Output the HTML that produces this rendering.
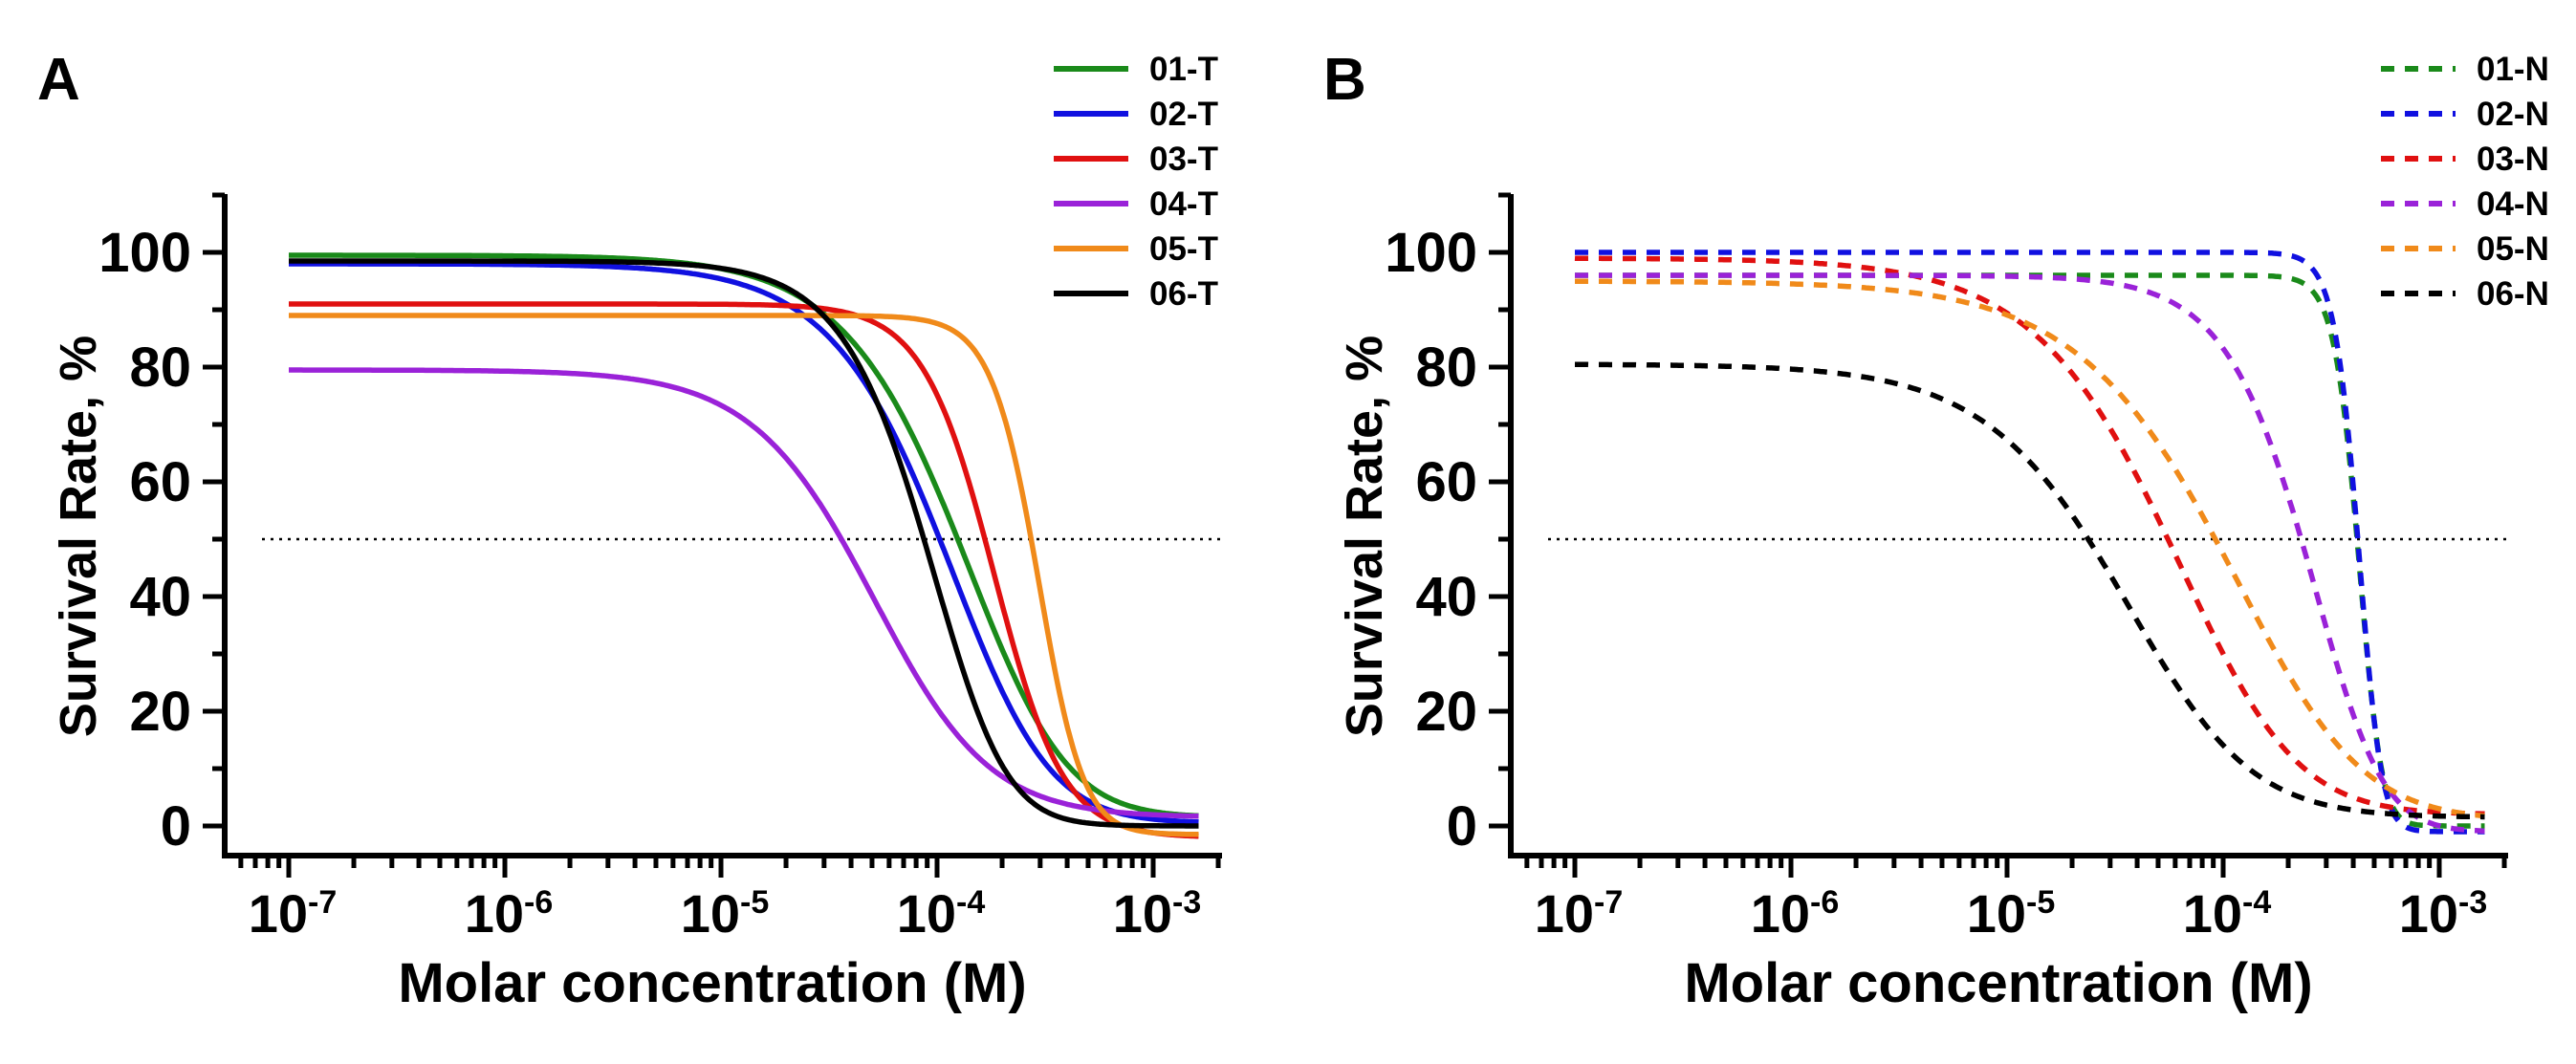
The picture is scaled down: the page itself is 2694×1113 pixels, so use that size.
<!DOCTYPE html>
<html><head><meta charset="utf-8"><style>
body{margin:0;background:#fff}
svg{display:block;font-family:"Liberation Sans",Arial,sans-serif;font-weight:bold}
</style></head><body>
<svg id="fig" width="2694" height="1113" viewBox="0 0 2694 1113"></svg>
<script>
// Panel A (solid) asymmetric-logistic fit parameters
const namesA=["01-T","02-T","03-T","04-T","05-T","06-T"];
const topA=[99.5,98,91,79.5,89,98.5];
const bottomA=[1.5,0.5,-2,1.5,-1.5,0];
const logIC50A=[-3.91,-3.98,-3.74,-4.305,-3.535,-4.055];
const hillA=[1.4,1.45,2.6,1.5,3.8,1.9];
const asymA=[2.2,2,1.1,1.2,1.3,2.2];
// Panel B (dashed)
const namesB=["01-N","02-N","03-N","04-N","05-N","06-N"];
const topB=[96,100,99,96,95,80.5];
const bottomB=[0,-1,2,-1,1,1.5];
const logIC50B=[-3.376,-3.376,-4.262,-3.62,-4.008,-4.479];
const hillB=[7,7,1.2,1.95,1.1,1.25];
const asymB=[1.6,1.6,2.1,2.5,2.2,1.6];
const colors=["#1a8a1a","#1010e0","#e01010","#9a22d8","#f08a1a","#000000"];
const yTicks=[0,20,40,60,80,100];
const xDecades=[-7,-6,-5,-4,-3];
const xMin=-7,xMax=-2.79;

const NS="http://www.w3.org/2000/svg";
const svg=document.getElementById('fig');
function mk(t,a,p){const e=document.createElementNS(NS,t);for(const k in a)e.setAttribute(k,a[k]);(p||svg).appendChild(e);return e;}

function panel(ox,label,names,tops,bots,ics,hills,asyms,dashed,legX){
  const g=mk('g',{});
  
  
  const axL=ox, axR=ox+1043, x0=ox+67, dec=226;
  const X=l=>x0+(l+7)*dec;
  const Y=v=>864-v*6;
  const axB=895, axT=203;
  const pl=mk('text',{x:ox-196,y:104,'font-size':62},g);pl.textContent=label;
  
  
  const ya=mk('line',{x1:axL,y1:axT,x2:axL,y2:axB+2,stroke:'#000','stroke-width':6},g);
  
  
  for(let v=110;v>=-5;v-=10){
    const major=yTicks.includes(v);
    mk('line',{x1:axL-(major?23:13),y1:Y(v),x2:axL,y2:Y(v),stroke:'#000','stroke-width':5},g);
    if(major){const t=mk('text',{x:axL-35,y:Y(v)+20,'font-size':58,'text-anchor':'end'},g);t.textContent=v;
      
      }
  }
  const xa=mk('line',{x1:axL-3,y1:axB,x2:axR,y2:axB,stroke:'#000','stroke-width':6},g);
  
  
  for(let d=-8;d<=-3;d++){for(let m=1;m<=9;m++){const l=d+Math.log10(m);
    if(l<xMin-0.3||l>-2.68)continue;
    const major=m===1;
    mk('line',{x1:X(l),y1:axB,x2:X(l),y2:axB+(major?23:13),stroke:'#000','stroke-width':5},g);}}
  xDecades.forEach(d=>{
    const t=mk('text',{x:X(d)+4,y:975,'font-size':56,'text-anchor':'middle'},g);
    
    
    t.appendChild(document.createTextNode('10'));
    const s=mk('tspan',{dy:-20,'font-size':34},t);s.textContent=String(d);
  });
  const xt=mk('text',{x:ox+510,y:1048,'font-size':58,'text-anchor':'middle'},g);xt.textContent='Molar concentration (M)';
  
  
  const yt=mk('text',{x:0,y:0,'font-size':54,'text-anchor':'middle',transform:`translate(${ox-135},561) rotate(-90)`},g);yt.textContent='Survival Rate, %';
  
  
  const ref=mk('line',{x1:ox+39,y1:Y(50),x2:axR,y2:Y(50),stroke:'#000','stroke-width':2.5,'stroke-dasharray':'3 6'},g);
  
  
  names.forEach((n,i)=>{
    const h=hills[i],S=asyms[i];
    const c=ics[i]-Math.log10(Math.pow(2,1/S)-1)/h;
    let d='';
    for(let k=0;k<=500;k++){const l=xMin+(xMax-xMin)*k/500;
      const y=bots[i]+(tops[i]-bots[i])/Math.pow(1+Math.pow(10,(l-c)*h),S);
      d+=(k?'L':'M')+X(l).toFixed(1)+' '+Y(y).toFixed(1);}
    const p=mk('path',{d:d,fill:'none',stroke:colors[i],'stroke-width':5.5},g);
    if(dashed)p.setAttribute('stroke-dasharray','14 11');
    
    
    const ly=72+i*47;
    const ll=mk('line',{x1:legX,y1:ly,x2:legX+78,y2:ly,stroke:colors[i],'stroke-width':6},g);
    if(dashed)ll.setAttribute('stroke-dasharray','14 11');
    
    
    const lt=mk('text',{x:legX+100,y:ly+12,'font-size':35},g);lt.textContent=n;
    
    
  });
}
panel(235,'A',namesA,topA,bottomA,logIC50A,hillA,asymA,false,1102);
panel(1580,'B',namesB,topB,bottomB,logIC50B,hillB,asymB,true,2490);
</script>
</body></html>
